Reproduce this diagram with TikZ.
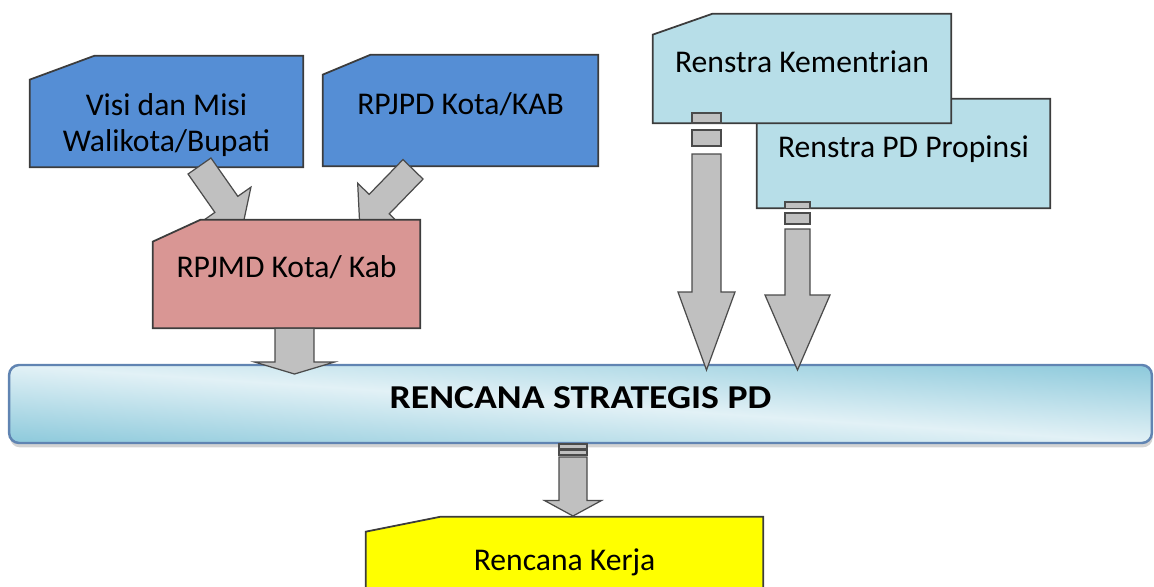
\documentclass[tikz,border=0pt]{standalone}
\usepackage{fontspec}
\setmainfont{Carlito}
\newfontfamily\barfont{Carlito}[FakeStretch=1.13]
\usetikzlibrary{calc, backgrounds, shadows}
\definecolor{cardblue}{RGB}{85,142,213}
\definecolor{cardrose}{RGB}{217,150,148}
\definecolor{cardaqua}{RGB}{183,222,232}
\definecolor{cardyellow}{RGB}{255,255,0}
\definecolor{cardline}{RGB}{60,60,60}
\definecolor{arrowgray}{RGB}{192,192,192}
\definecolor{arrowline}{RGB}{75,75,75}
\definecolor{barlight}{RGB}{226,241,246}
\definecolor{bardark}{RGB}{140,201,219}
\definecolor{barline}{RGB}{96,132,178}

\newcommand{\cardfont}{\fontsize{18pt}{18.8pt}\selectfont}

% card with its top left corner cut off, filled behind the node text
\newcommand{\card}[4]{%
  \begin{scope}[on background layer]
    \filldraw[cardedge, fill=#4]
      ([yshift=-#3]#1.north west) -- ([xshift=#2]#1.north west)
      -- (#1.north east) -- (#1.south east) -- (#1.south west) -- cycle;
  \end{scope}}

% block arrow: from, to, half shaft, half head, head length
\newcommand{\blockarrow}[5]{%
  \coordinate (ba-base) at ($(#2)!#5!(#1)$);
  \filldraw[blockarrow]
    ($(#1)!#3!90:(#2)$) -- ($(ba-base)!#3!90:(#2)$) -- ($(ba-base)!#4!90:(#2)$)
    -- (#2) -- ($(ba-base)!#4!-90:(#2)$) -- ($(ba-base)!#3!-90:(#2)$)
    -- ($(#1)!#3!-90:(#2)$) -- cycle;}

\tikzset{
  card/.style={rectangle, inner sep=0pt, font=\cardfont,
    text height=0.4cm, text depth=0.25cm},
  cardedge/.style={draw=cardline, line width=1pt},
  blockarrow/.style={fill=arrowgray, draw=arrowline, line width=0.7pt},
  mainbar/.style={rectangle, rounded corners=0.2cm, draw=barline, line width=1.4pt,
    fill=barlight,
    path picture={
      \begin{scope}[transform canvas={rotate around={-3.9:(path picture bounding box.center)}}]
        \shade[top color=bardark, bottom color=bardark, middle color=barlight]
          ($(path picture bounding box.center)+(-12cm,-1.56cm)$)
          rectangle ($(path picture bounding box.center)+(12cm,1.56cm)$);
      \end{scope}},
    drop shadow={shadow xshift=0.5pt, shadow yshift=-2.5pt, opacity=0.35},
    font=\barfont\bfseries\fontsize{19pt}{21pt}\selectfont,
    text height=0.42cm, text depth=0.26cm}
}

\begin{document}
\begin{tikzpicture}[x=0.02cm, y=-0.02cm]
  \useasboundingbox (0,0) rectangle (1154,586);

  % strategic plan bar
  \node[mainbar, minimum width=22.86cm, minimum height=1.56cm] (renstra) at (580.5,404)
    {RENCANA STRATEGIS PD};

  % upper left cards
  \node[card, minimum width=5.46cm, minimum height=2.22cm, text depth=0.26cm,
    font=\fontsize{18pt}{21pt}\selectfont] (visi) at (166.5,111.5)
    {\begin{tabular}[t]{@{}c@{}}Visi dan Misi\\Walikota/Bupati\end{tabular}};
  \card{visi}{1.3cm}{0.48cm}{cardblue}

  \node[card, minimum width=5.5cm, minimum height=2.22cm] (rpjpd) at (460.5,110.5) {RPJPD Kota/KAB};
  \card{rpjpd}{0.96cm}{0.4cm}{cardblue}

  \node[card, minimum width=5.34cm, minimum height=2.16cm] (rpjmd) at (286.5,274) {RPJMD Kota/ Kab};

  % arrows into RPJMD, under its card
  \coordinate (visi-out) at (199.5,166);
  \coordinate (rpjmd-in1) at (242.4,227.3);
  \coordinate (rpjpd-out) at (413,169.3);
  \coordinate (rpjmd-in2) at (359.7,224.2);
  \begin{scope}[on background layer]
    \blockarrow{visi-out}{rpjmd-in1}{0.28cm}{0.6cm}{0.56cm}
    \blockarrow{rpjpd-out}{rpjmd-in2}{0.28cm}{0.6cm}{0.56cm}
  \end{scope}
  \card{rpjmd}{0.96cm}{0.44cm}{cardrose}

  % upper right cards
  \node[card, minimum width=5.86cm, minimum height=2.18cm] (prop) at (903.5,153.5) {Renstra PD Propinsi};
  \card{prop}{1.2cm}{0.42cm}{cardaqua}
  \node[card, minimum width=5.96cm, minimum height=2.18cm] (kem) at (802,68.5) {Renstra Kementrian};
  \card{kem}{1.2cm}{0.42cm}{cardaqua}

  % work plan
  \node[card, minimum width=7.94cm, minimum height=2cm] (kerja) at (564.5,567) {Rencana Kerja};
  \card{kerja}{1.5cm}{0.3cm}{cardyellow}

  % arrows down into the bar
  \coordinate (rpjmd-out) at ($(rpjmd.south)+(8,0)$);
  \coordinate (renstra-in1) at (294.5,374);
  \blockarrow{rpjmd-out}{renstra-in1}{0.39cm}{0.8cm}{0.24cm}

  \coordinate (kem-out) at (706.5,154);
  \coordinate (renstra-in2) at (706.5,370);
  \filldraw[blockarrow] ($(kem-out)+(-14.5,-41)$) rectangle ++(29,10);
  \filldraw[blockarrow] ($(kem-out)+(-14.5,-24)$) rectangle ++(29,16);
  \blockarrow{kem-out}{renstra-in2}{0.29cm}{0.57cm}{1.56cm}

  \coordinate (prop-out) at (797.5,229);
  \coordinate (renstra-in3) at (797.5,370);
  \filldraw[blockarrow] ($(prop-out)+(-12.5,-27)$) rectangle ++(25,6.5);
  \filldraw[blockarrow] ($(prop-out)+(-12.5,-16)$) rectangle ++(25,11);
  \blockarrow{prop-out}{renstra-in3}{0.25cm}{0.65cm}{1.5cm}

  % arrow down to the work plan
  \coordinate (renstra-out) at (573,457);
  \coordinate (kerja-in) at (573,516);
  \filldraw[blockarrow] ($(renstra-out)+(-14,-13)$) rectangle ++(28,5);
  \filldraw[blockarrow] ($(renstra-out)+(-14,-7)$) rectangle ++(28,5);
  \blockarrow{renstra-out}{kerja-in}{0.28cm}{0.57cm}{0.31cm}
\end{tikzpicture}
\end{document}
